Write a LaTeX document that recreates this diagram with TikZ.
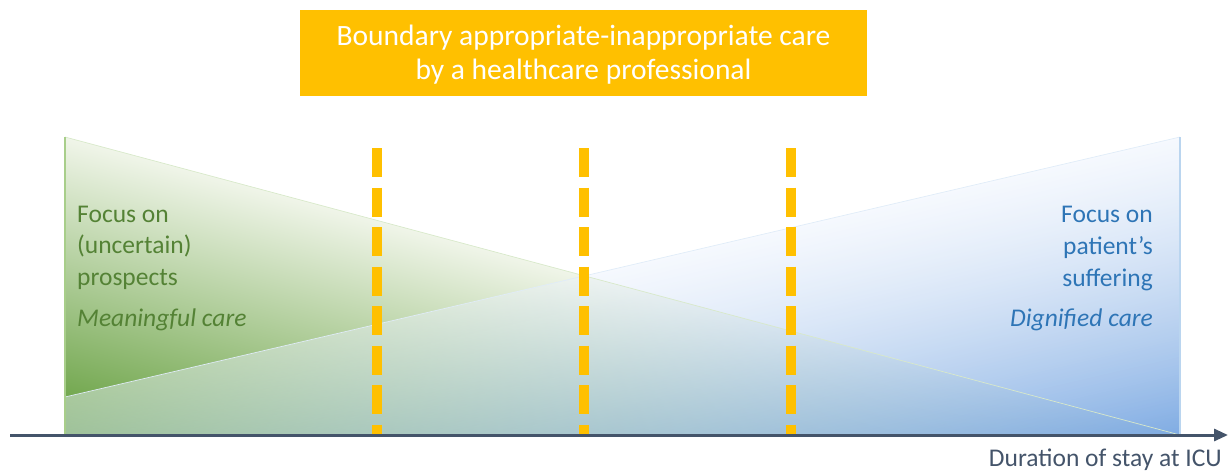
\documentclass[tikz,border=0pt]{standalone}
\usepackage{fontspec}
\setmainfont{Carlito}
\usetikzlibrary{arrows.meta,fadings}
\definecolor{amber}{HTML}{FFC000}
\definecolor{slate}{HTML}{44546A}
\definecolor{leafgreen}{HTML}{548235}
\definecolor{skyblue}{HTML}{2E75B6}
\definecolor{greenpale}{RGB}{240,245,233}
\definecolor{greendeep}{RGB}{96,156,56}
\definecolor{greenedge}{RGB}{168,206,138}
\definecolor{bluepale}{RGB}{234,241,252}
\definecolor{bluedeep}{RGB}{116,164,224}
\definecolor{blueedge}{RGB}{186,213,239}
% blue wedge: half transparent along its upper edge, nearly opaque at the bottom
\tikzfading[name=bluefade, top color=transparent!55, bottom color=transparent!8]
\begin{document}
\begin{tikzpicture}[x=1pt,y=-1pt,
  boundary/.style={amber, line width=10pt, dash pattern=on 29.3pt off 10.2pt},
  sidetext/.style={font=\fontsize{25.5}{30}\selectfont, inner sep=0pt},
  greentext/.style={sidetext, text=leafgreen, anchor=base west},
  bluetext/.style={sidetext, text=skyblue, anchor=base east},
]
\useasboundingbox (0,0) rectangle (1228,472);

% prospects wedge (green): gradient runs across its sloping edge
\begin{scope}
  \clip (65,137) -- (1180,435) -- (65,435) -- cycle;
  \shade[transform canvas={rotate around={-14.96:(65,137)}},
         top color=greenpale, bottom color=greendeep]
    (50,137) rectangle (1230,426);
\end{scope}

% suffering wedge (blue), laid over the green one
\begin{scope}
  \clip (65,397) -- (1180,137) -- (1180,435) -- (65,435) -- cycle;
  \shade[transform canvas={rotate around={13.13:(65,397)}},
         top color=bluepale, bottom color=bluedeep, path fading=bluefade]
    (50,397) rectangle (1220,688);
\end{scope}

% wedge edges
\draw[greenedge!45, line width=0.7pt] (65,137) -- (1180,435);
\draw[blueedge!45, line width=0.7pt] (65,397) -- (1180,137);
\draw[greenedge, line width=2pt] (65,137) -- (65,435);
\draw[blueedge, line width=2pt] (1180,137) -- (1180,435);

% title box
\node[fill=amber, minimum width=567pt, minimum height=86pt, inner sep=0pt]
  (title) at (583.5,53) {};
\node[text=white, align=center, font=\fontsize{29.5}{34}\selectfont, inner sep=0pt]
  (titletext) at (title.center) [yshift=-2pt] {Boundary appropriate-inappropriate care\\by a healthcare professional};

% left texts
\node[greentext] (g1) at (77,222) {Focus on};
\node[greentext] (g2) at (77,253.5) {(uncertain)};
\node[greentext] (g3) at (77,285) {prospects};
\node[greentext, font=\fontsize{25.5}{30}\selectfont\itshape] (g4) at (77,326.5) {Meaningful care};

% right texts
\node[bluetext] (b1) at (1153,222) {Focus on};
\node[bluetext] (b2) at (1153,254) {patient’s};
\node[bluetext] (b3) at (1153,286) {suffering};
\node[bluetext, font=\fontsize{25.5}{30}\selectfont\itshape] (b4) at (1153,326) {Dignified care};

% boundary lines
\foreach \n/\x in {1/377, 2/584, 3/791} {
  \coordinate (top\n) at (\x,148);
  \coordinate (bot\n) at (\x,435);
  \draw[boundary] (top\n) -- (bot\n);
}

% time axis
\coordinate (axstart) at (10,435);
\coordinate (axend) at (1228,435);
\draw[slate, line width=3pt, -{Triangle[length=14pt,width=12pt]}] (axstart) -- (axend);
\node[anchor=base east, text=slate, font=\fontsize{25.5}{30}\selectfont, inner sep=0pt]
  (xlabel) at (1222,466) {Duration of stay at ICU};
\end{tikzpicture}
\end{document}
